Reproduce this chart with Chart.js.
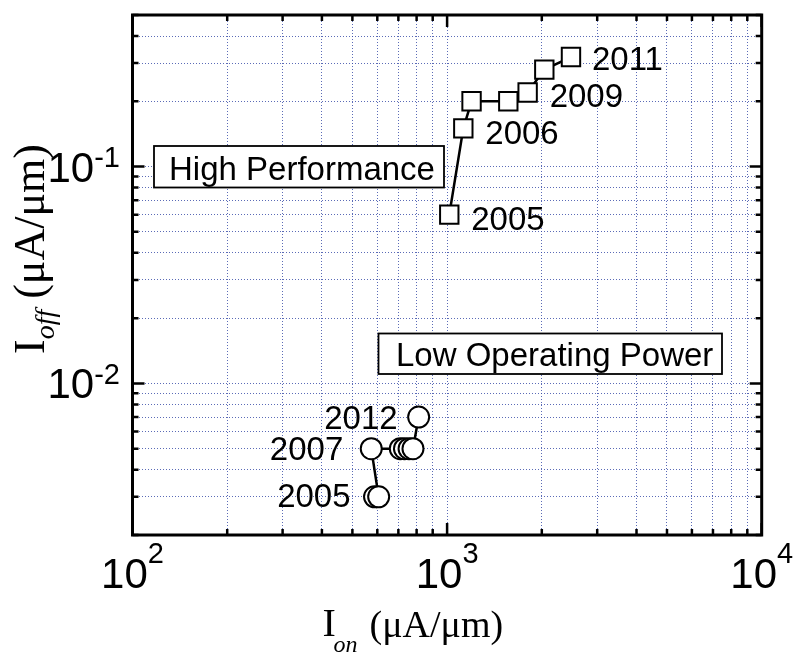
<!DOCTYPE html>
<html><head><meta charset="utf-8">
<script src="https://cdn.jsdelivr.net/npm/chart.js@4/dist/chart.umd.min.js"></script>
<style>html,body{margin:0;padding:0;background:#fff}canvas{display:block}</style>
</head><body>
<canvas id="c" width="793" height="655"></canvas>
<script>
// ---- data ----
const hpYears  = ['2005','2006','2007','2008','2009','2010','2011'];
const hpIon    = [1016, 1126, 1196, 1565, 1803, 2037, 2476];
const hpIoff   = [0.060, 0.150, 0.200, 0.200, 0.2195, 0.280, 0.320];
const lopYears = ['2005','2006','2007','2008','2009','2010','2011','2012'];
const lopIon   = [588, 606, 574, 710, 732, 757, 779, 812];
const lopIoff  = [0.003, 0.003, 0.005, 0.005, 0.005, 0.005, 0.005, 0.007];
const hpShownYears  = ['2005','2006','2009','2011'];
const lopShownYears = ['2005','2007','2012'];
const seriesNames = ['High Performance', 'Low Operating Power'];
const xTickValues = [100,200,300,400,500,600,700,800,900,1000,2000,3000,4000,5000,6000,7000,8000,9000,10000];
const yTickValues = [0.002,0.003,0.004,0.005,0.006,0.007,0.008,0.009,0.01,0.02,0.03,0.04,0.05,0.06,0.07,0.08,0.09,0.1,0.2,0.3,0.4,0.5];
const xDecades = [100, 1000, 10000];
const xDecadeExps = ['2','3','4'];
const yDecades = [0.01, 0.1];
const yDecadeExps = ['-2','-1'];
const xTitleMain = 'I', xTitleSub = 'on', xTitleUnit = '(\u03bcA/\u03bcm)';
const yTitleMain = 'I', yTitleSub = 'off', yTitleUnit = ' (\u03bcA/\u03bcm)';

// ---- styling / placement (not data) ----
const SANS = "'Liberation Sans', Arial, sans-serif";
const SERIF = "'Liberation Serif', 'Times New Roman', serif";
const GRID = 'rgba(50,70,165,0.8)';
const hpLabelPos = {'2005':[22,15.5], '2006':[22,15.5], '2009':[22,14.5], '2011':[21,12.5]};
const lopLabelPos = {'2005':[-24,10], '2007':[-28,11], '2012':[-21,11.5]};

const hpData = hpIon.map((x,i)=>({x, y: hpIoff[i]}));
const lopData = lopIon.map((x,i)=>({x, y: lopIoff[i]}));

function isDecade(v){ const l = Math.log10(v); return Math.abs(l-Math.round(l))<1e-9; }

const overlay = {
  id: 'overlay',
  afterDatasetsDraw(chart){
    const ctx = chart.ctx, a = chart.chartArea;
    const xs = chart.scales.x, ys = chart.scales.y;
    ctx.save();
    function box(x1,y1,x2,y2,text,tx,ty){
      ctx.fillStyle='#fff'; ctx.fillRect(x1,y1,x2-x1,y2-y1);
      ctx.strokeStyle='#000'; ctx.lineWidth=1.8; ctx.strokeRect(x1,y1,x2-x1,y2-y1);
      ctx.fillStyle='#000'; ctx.font='33px '+SANS; ctx.textAlign='left'; ctx.textBaseline='alphabetic';
      ctx.fillText(text,tx,ty);
    }
    box(154,146,444,187.5,seriesNames[0],169,180);
    box(378.5,333.5,722,374,seriesNames[1],396,366);
    ctx.font='33px '+SANS; ctx.fillStyle='#000'; ctx.textBaseline='alphabetic';
    ctx.textAlign='left';
    hpShownYears.forEach(yr=>{
      const i = hpYears.indexOf(yr); const o = hpLabelPos[yr];
      ctx.fillText(yr, xs.getPixelForValue(hpIon[i])+o[0], ys.getPixelForValue(hpIoff[i])+o[1]);
    });
    ctx.textAlign='right';
    lopShownYears.forEach(yr=>{
      const i = lopYears.indexOf(yr); const o = lopLabelPos[yr];
      ctx.fillText(yr, xs.getPixelForValue(lopIon[i])+o[0], ys.getPixelForValue(lopIoff[i])+o[1]);
    });
    ctx.strokeStyle='#000'; ctx.lineWidth=3;
    ctx.strokeRect(a.left,a.top,a.right-a.left,a.bottom-a.top);
    ctx.lineWidth=2.5; ctx.beginPath();
    xTickValues.forEach(v=>{
      const p = xs.getPixelForValue(v); const L = isDecade(v)?12:6;
      ctx.moveTo(p,a.bottom); ctx.lineTo(p,a.bottom-L);
      ctx.moveTo(p,a.top); ctx.lineTo(p,a.top+L);
    });
    yTickValues.forEach(v=>{
      const p = ys.getPixelForValue(v); const L = isDecade(v)?12:6;
      ctx.moveTo(a.left,p); ctx.lineTo(a.left+L,p);
      ctx.moveTo(a.right,p); ctx.lineTo(a.right-L,p);
    });
    ctx.stroke();
    ctx.fillStyle='#000'; ctx.textBaseline='alphabetic'; ctx.textAlign='left';
    const bigF='42px '+SANS, supF='29px '+SANS;
    xDecades.forEach((v,i)=>{
      ctx.font=bigF; const w1=ctx.measureText('10').width;
      ctx.font=supF; const w2=ctx.measureText(xDecadeExps[i]).width;
      const p = xs.getPixelForValue(v); const x0 = p-(w1+w2)/2;
      ctx.font=bigF; ctx.fillText('10',x0,587.5);
      ctx.font=supF; ctx.fillText(xDecadeExps[i],x0+w1,563);
    });
    yDecades.forEach((v,i)=>{
      ctx.font=bigF; const w1=ctx.measureText('10').width;
      ctx.font=supF; const w2=ctx.measureText(yDecadeExps[i]).width;
      const p = ys.getPixelForValue(v); const xr = 120; const x0 = xr-w1-w2;
      ctx.font=bigF; ctx.fillText('10',x0,p+15);
      ctx.font=supF; ctx.fillText(yDecadeExps[i],x0+w1,p+0.5);
    });
    ctx.font='40px '+SERIF; ctx.fillText(xTitleMain,322.5,635.5);
    ctx.font='italic 24px '+SERIF; ctx.fillText(xTitleSub,333.5,652);
    ctx.font='38px '+SERIF; ctx.fillText(xTitleUnit,369.5,636.5);
    ctx.save(); ctx.translate(43.5,354); ctx.rotate(-Math.PI/2);
    ctx.font='44px '+SERIF; ctx.fillText(yTitleMain,0,0);
    let w = ctx.measureText(yTitleMain).width;
    ctx.font='italic 28px '+SERIF; ctx.fillText(yTitleSub,w,10);
    w += ctx.measureText(yTitleSub).width;
    ctx.font='44px '+SERIF; ctx.fillText(yTitleUnit,w,0);
    ctx.restore();
    ctx.restore();
  }
};

new Chart(document.getElementById('c'), {
  type: 'scatter',
  data: { datasets: [
    { label: seriesNames[0], data: hpData, showLine: true, borderColor:'#000', borderWidth:2.5,
      pointStyle:'rect', pointRadius:13, pointBackgroundColor:'#fff', pointBorderColor:'#000', pointBorderWidth:2 },
    { label: seriesNames[1], data: lopData, showLine: true, borderColor:'#000', borderWidth:2.5,
      pointStyle:'circle', pointRadius:10.5, pointBackgroundColor:'#fff', pointBorderColor:'#000', pointBorderWidth:2 }
  ]},
  options: {
    responsive:false, animation:false, devicePixelRatio:1,
    layout:{ padding:{ left:132.5, right:31.3, top:10, bottom:120 } },
    plugins:{ legend:{display:false}, tooltip:{enabled:false} },
    scales:{
      x:{ type:'logarithmic', min:100, max:10000,
          afterBuildTicks:(s)=>{ s.ticks = xTickValues.map(v=>({value:v})); },
          afterFit:(s)=>{ s.height=0; },
          ticks:{display:false},
          grid:{ color:GRID, lineWidth:1, drawTicks:false },
          border:{ display:false, dash:[1,2] } },
      y:{ type:'logarithmic', min:0.002, max:0.5,
          afterBuildTicks:(s)=>{ s.ticks = yTickValues.map(v=>({value:v})); },
          afterFit:(s)=>{ s.width=0; },
          ticks:{display:false},
          grid:{ color:GRID, lineWidth:1, drawTicks:false },
          border:{ display:false, dash:[1,2] } }
    }
  },
  plugins:[overlay]
});
</script>
</body></html>
